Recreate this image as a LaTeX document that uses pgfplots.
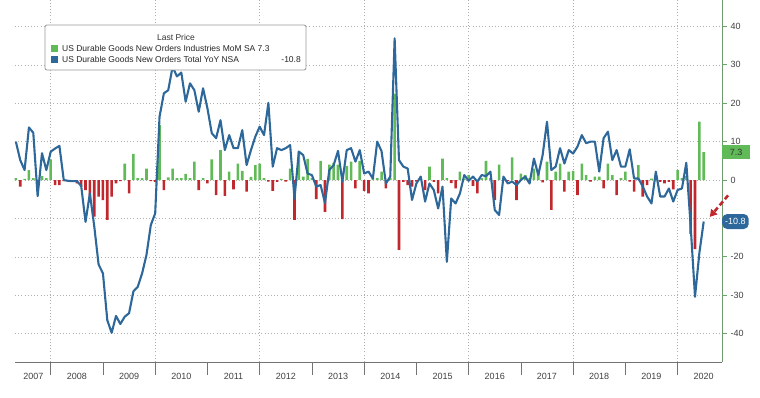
\documentclass[border=0pt]{standalone}
\usepackage{pgfplots}
\pgfplotsset{compat=1.18}
\usepackage{pgfplotstable}
\usepackage{fontspec}
\setmainfont{Liberation Sans}
\usetikzlibrary{arrows.meta}
\definecolor{bargreen}{RGB}{96,186,88}
\definecolor{barred}{RGB}{192,40,46}
\definecolor{lineblue}{RGB}{46,104,154}
\definecolor{gridgray}{RGB}{175,175,175}
\definecolor{axisgreen}{RGB}{100,170,100}
\pgfplotstableread{
m mom yoy
4 0.5 10
5 -1.7 5.2
6 0.3 2.6
7 2.6 13.7
8 0.5 12.3
9 -0.5 -4.2
10 1 7
11 0.5 2.6
12 5.4 7.4
13 -1.3 8.2
14 -1.3 8.9
15 -0.3 0
16 -0.3 -0.2
17 -0.3 -0.3
18 -0.9 -0.3
19 -1.7 -1.5
20 -2.6 -10.9
21 -4.3 -3.5
22 -9.5 -12
23 -4.3 -22
24 -5.2 -24.3
25 -10.4 -36.5
26 -4.3 -39.8
27 -0.9 -35.4
28 -0.3 -37.5
29 4.3 -35.6
30 -3.5 -34.7
31 6.8 -29
32 0.5 -27.8
33 0.5 -24.3
34 3 -19.5
35 -0.3 -11.7
36 -0.5 -8.7
37 14.3 16.5
38 -2.6 22.6
39 0.7 23.4
40 3 29.5
41 0.5 27
42 0.5 28
43 1.6 20.4
44 0.5 25.2
45 4.8 23.4
46 -2.6 17.8
47 0.5 23.9
48 -0.9 18.7
49 5.4 12.2
50 -3.9 10.9
51 7.8 15.6
52 -4.1 7.8
53 2.2 11.7
54 -2.4 8.3
55 4.3 8.3
56 2.4 13
57 -3 3.9
58 0.8 7.8
59 3.9 11.3
60 4.3 13.9
61 0.5 11.7
62 -0.4 20.1
63 -2.8 3.5
64 -0.5 8.3
65 0.3 7.8
66 -0.4 8.3
67 3 9.1
68 -10.4 -4.8
69 7.6 7.4
70 0.9 6.5
71 5.5 1.7
72 0.5 1.3
73 -5 -1.7
74 5 -1.3
75 -8.3 -6
76 4 2.6
77 4.5 3.9
78 4 7.6
79 -10.2 -0.4
80 3.7 7.8
81 4.8 8.3
82 -2.2 4.8
83 5 7.8
84 -2.8 1.7
85 -3.5 2.2
86 0.5 0.4
87 0.5 10
88 2.2 7.5
89 -2.2 -0.9
90 0.5 0.9
91 22.5 36.9
92 -18.2 5.2
93 -0.5 3.5
94 -1.3 3
95 -1.7 -5.2
96 -0.4 -0.9
97 0.3 0.9
98 -2.6 -5.6
99 3.5 -0.9
100 -0.5 -2.6
101 -3.5 -7.4
102 5.6 -1.7
103 0.5 -21.3
104 -0.8 -4.8
105 -2.2 -6.1
106 2.2 -3.5
107 0.3 1.3
108 1.3 -0.2
109 -1.5 0.9
110 -3.5 -0.4
111 0.5 1.3
112 5 1
113 0.5 2.2
114 -5.2 -7.8
115 4 -9.1
116 0.4 0.9
117 -0.3 -0.9
118 5.9 -0.4
119 -5.2 -1.3
120 1.7 0
121 1.3 0.9
122 0.5 -0.9
123 3 5.6
124 2.2 1.3
125 -0.6 6.5
126 4.8 15.2
127 -7.8 2.6
128 2.2 3.5
129 4.3 8.3
130 -3 4.3
131 2.2 7.8
132 2.4 6.9
133 -3.9 8.7
134 4.3 11.7
135 1.3 9.6
136 -0.4 10
137 0.9 10
138 0.9 2.2
139 -2.2 10.9
140 4.3 12.6
141 1.3 5.2
142 -3.9 7.8
143 0.5 3.5
144 2.2 3.5
145 -0.4 8
146 -3 0.4
147 3.9 0.4
148 -4.3 -1.7
149 -1.3 -4.3
150 0.4 -6.1
151 0.3 2.2
152 -0.5 -4.3
153 -0.9 -4.3
154 -0.5 -2.2
155 -2.4 -5.6
156 2.6 -2.6
157 0.5 -2.2
158 1 4.5
159 -14 -12
160 -18 -30.4
161 15.2 -19
162 7.3 -10.8
}\data
\begin{document}
\begin{tikzpicture}[x=1pt,y=1pt]
\path[use as bounding box] (0,0) rectangle (760,397);
\begin{axis}[
  at={(15pt,35pt)}, anchor=south west,
  width=707pt, height=362pt, scale only axis,
  xmin=3.8, xmax=166.2, ymin=-47.4, ymax=46.9,
  clip=false,
  axis x line*=bottom, axis y line*=right,
  x axis line style={black!55, line width=0.8pt},
  y axis line style={axisgreen!60!gray, line width=0.8pt},
  tick align=outside,
  xtick={12,36,60,84,108,132,156},
  xticklabels={},
  major x tick style={black!55, line width=0.6pt},
  minor xtick={12,24,36,48,60,72,84,96,108,120,132,144,156},
  minor x tick style={black!55, line width=0.6pt},
  minor tick length=13pt,
  major tick length=5pt,
  xmajorgrids=true,
  extra x ticks={8,18,30,42,54,66,78,90,102,114,126,138,150,162},
  extra x tick labels={2007,2008,2009,2010,2011,2012,2013,2014,2015,2016,2017,2018,2019,2020},
  extra x tick style={grid=none, major tick length=0pt},
  ytick={-40,-30,-20,-10,0,10,20,30,40},
  yticklabels={-40,-30,-20,,0,10,20,30,40},
  major y tick style={axisgreen, line width=0.8pt},
  ymajorgrids=true,
  major grid style={gridgray, line width=0.6pt, dash pattern=on 1pt off 2.2pt},
  /pgf/number format/assume math mode=true,
  tick label style={font=\fontsize{9}{10}\selectfont, text=black!75},
  xticklabel style={yshift=-8pt},
]
\addplot[ybar, bar width=2.6pt, bar shift=0pt, draw=none, fill=bargreen,
  restrict y to domain=0:100] table[x=m, y=mom] {\data};
\addplot[ybar, bar width=2.6pt, bar shift=0pt, draw=none, fill=barred,
  restrict y to domain=-100:0] table[x=m, y=mom] {\data};
\addplot[lineblue, line width=2.1pt, line join=round, mark=none] table[x=m, y=yoy] {\data};
\node[fill=bargreen, text=black!80, font=\fontsize{9}{10}\selectfont, anchor=west,
  inner xsep=3pt, minimum height=13pt, minimum width=28pt] at (axis cs:166.2,7.3) {7.3};
\node[fill=lineblue, text=white, font=\fontsize{9}{10}\selectfont, anchor=west,
  rounded corners=5pt, inner xsep=3pt, minimum height=15pt] at (axis cs:166.2,-10.8) {-10.8};
\draw[barred, line width=2.6pt, dash pattern=on 5pt off 3pt, -{Triangle[length=7pt,width=8pt]}]
  (axis cs:167.6,-4.0) -- (axis cs:163.4,-9.6);
\end{axis}
\draw[gray!80, fill=white, rounded corners=2pt, line width=0.8pt] (45,327) rectangle (306,372);
\node[font=\fontsize{8.5}{10}\selectfont, text=black!80] at (176,359.5) {Last Price};
\fill[bargreen] (51,345) rectangle (58,352);
\node[anchor=base west, font=\fontsize{8.5}{10}\selectfont, text=black!85, inner sep=0pt] at (62,345.5) {US Durable Goods New Orders Industries MoM SA 7.3};
\fill[lineblue] (51,333.5) rectangle (58,340.5);
\node[anchor=base west, font=\fontsize{8.5}{10}\selectfont, text=black!85, inner sep=0pt] at (62,334) {US Durable Goods New Orders Total YoY NSA};
\node[anchor=base east, font=\fontsize{8.5}{10}\selectfont, text=black!85, inner sep=0pt] at (301,334) {-10.8};
\end{tikzpicture}
\end{document}
